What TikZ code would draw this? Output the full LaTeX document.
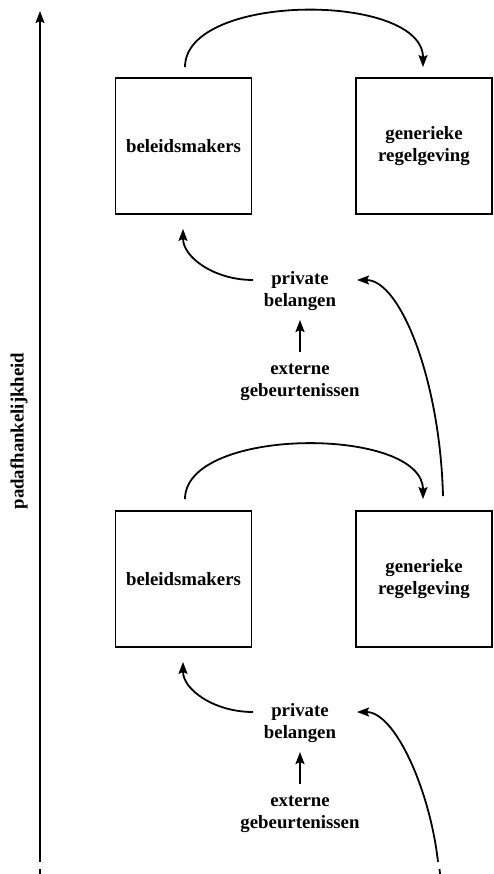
\documentclass[tikz,border=0pt]{standalone}
\usepackage{fontspec}
\setmainfont{Liberation Serif}
\usetikzlibrary{arrows.meta}
\begin{document}
\begin{tikzpicture}[x=1pt,y=-1pt,
  lbl/.style={font=\bfseries\fontsize{18.8}{22}\selectfont, align=center, inner sep=3pt},
  box/.style={lbl, draw, line width=1.8pt, minimum width=136pt, minimum height=136pt},
  arr/.style={line width=1.8pt, -{Stealth[length=12pt,width=9pt,inset=2pt]}},
  ln/.style={line width=1.8pt}]
\useasboundingbox (0,0) rectangle (493,874);
% axis
\coordinate (axb) at (40,862);
\coordinate (axt) at (40,11);
\coordinate (axd1) at (40,869);
\coordinate (axd2) at (40,874);
\draw[arr] (axb) -- (axt);
\draw[ln] (axd1) -- (axd2);
\node[lbl, rotate=90] (lab) at (19,431) {padafhankelijkheid};
% upper level
\node[box] (bm1) at (183.5,146) {beleidsmakers};
\node[box] (gr1) at (424,146) {generieke\\regelgeving};
\node[lbl] (pb1) at (300,291) {private\\belangen};
\node[lbl] (eg1) at (300,382) {externe\\gebeurtenissen};
% lower level
\node[box] (bm2) at (183.5,579) {beleidsmakers};
\node[box] (gr2) at (424,579) {generieke\\regelgeving};
\node[lbl] (pb2) at (300,723) {private\\belangen};
\node[lbl] (eg2) at (300,814) {externe\\gebeurtenissen};
% upper connectors
\draw[arr] ([shift={(1.5,-10)}]bm1.north) .. controls +(0,-75) and +(0,-75) .. ([shift={(-1,-10)}]gr1.north);
\draw[arr] ([shift={(-47,-11)}]pb1.center) .. controls +(-38.5,0) and +(0,28.6) .. ([shift={(-0.5,14)}]bm1.south);
\draw[arr] ([shift={(0,-30)}]eg1.center) -- ([shift={(0,29)}]pb1.center);
\draw[arr] ([shift={(19,-14)}]gr2.north) .. controls +(-3,-117) and +(43,0) .. ([shift={(57,-11)}]pb1.center);
% lower connectors
\draw[arr] ([shift={(1.5,-11)}]bm2.north) .. controls +(0,-73) and +(0,-73) .. ([shift={(-1,-11)}]gr2.north);
\draw[arr] ([shift={(-47,-11)}]pb2.center) .. controls +(-38.5,0) and +(0,28) .. ([shift={(-0.5,14)}]bm2.south);
\draw[arr] ([shift={(0,-30)}]eg2.center) -- ([shift={(0,29)}]pb2.center);
\coordinate (rb) at (438,862);
\coordinate (rd1) at (439.5,869);
\coordinate (rd2) at (440,874);
\draw[arr] (rb) .. controls (430,790) and (395,712) .. ([shift={(57,-11)}]pb2.center);
\draw[ln] (rd1) -- (rd2);
\end{tikzpicture}
\end{document}
